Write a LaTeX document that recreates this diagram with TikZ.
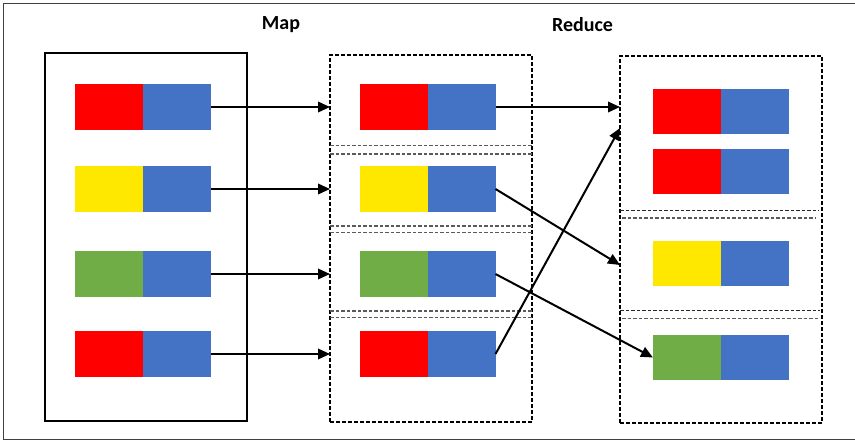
\documentclass[tikz,border=0pt]{standalone}
\usepackage{fontspec}
\setmainfont{Carlito}
\usetikzlibrary{arrows.meta}
\definecolor{kred}{HTML}{FF0000}
\definecolor{vblue}{HTML}{4472C4}
\definecolor{kyellow}{HTML}{FFE800}
\definecolor{kgreen}{HTML}{70AD47}
\definecolor{sepgray}{HTML}{5A5A5A}
\tikzset{
  cell/.style={minimum width=68pt, minimum height=45.5pt, inner sep=0pt, outer sep=0pt, fill=#1},
  solidbox/.style={draw=black, line width=1.8pt, minimum width=202pt, minimum height=368pt, inner sep=0pt, outer sep=0pt},
  dashbox/.style={draw=black, line width=1.8pt, dash pattern=on 4pt off 2pt, minimum width=202pt, minimum height=367pt, inner sep=0pt, outer sep=0pt},
  sepline/.style={draw=sepgray, line width=1.3pt, dash pattern=on 3.5pt off 2pt},
  sepdark/.style={draw=black!85, line width=1.3pt, dash pattern=on 3.5pt off 2pt},
  flow/.style={draw=black, line width=2pt, -{Triangle[length=12pt,width=10.5pt]}},
  title/.style={font=\bfseries\fontsize{20}{24}\selectfont, inner sep=0pt},
  frame/.style={draw=black!75, line width=1.3pt}
}
\begin{document}
\begin{tikzpicture}[x=1pt,y=-1pt]
  \useasboundingbox (0,0) rectangle (855,442);
  \fill[white] (0,0) rectangle (855,442);
  % surrounding frame
  \draw[frame] (860,3.5) -- (3.5,3.5) -- (3.5,439.5) -- (860,439.5);

  % titles
  \node[title] (maptitle) at (281,25) {Map};
  \node[title] (redtitle) at (582.5,25) {Reduce};

  % containers
  \node[solidbox] (left) at (146,237) {};
  \node[dashbox] (mid) at (431,238.5) {};
  \node[dashbox] (right) at (721,239.5) {};

  % partition separators in the map stage
  \foreach \ya/\yb in {145.5/154, 226/232.7, 311/317.7} {
    \draw[sepline] (330,\ya) -- (532,\ya);
    \draw[sepline] (330,\yb) -- (532,\yb);
  }
  % partition separators in the reduce stage
  \draw[sepdark] (620,210.7) -- (819,210.7);
  \draw[sepline] (622,218) -- (815,218);
  \draw[sepdark] (620,310.7) -- (820,310.7);
  \draw[sepline] (622,318.3) -- (820,318.3);

  % input records
  \node[cell=kred, anchor=east] (l1k) at (142.5,107) {};
  \node[cell=vblue, anchor=west] (l1v) at (142.5,107) {};
  \node[cell=kyellow, anchor=east] (l2k) at (142.5,189) {};
  \node[cell=vblue, anchor=west] (l2v) at (142.5,189) {};
  \node[cell=kgreen, anchor=east] (l3k) at (142.5,274) {};
  \node[cell=vblue, anchor=west] (l3v) at (142.5,274) {};
  \node[cell=kred, anchor=east] (l4k) at (142.5,354) {};
  \node[cell=vblue, anchor=west] (l4v) at (142.5,354) {};

  % mapped records
  \node[cell=kred, anchor=east] (m1k) at (427.5,107) {};
  \node[cell=vblue, anchor=west] (m1v) at (427.5,107) {};
  \node[cell=kyellow, anchor=east] (m2k) at (427.5,189) {};
  \node[cell=vblue, anchor=west] (m2v) at (427.5,189) {};
  \node[cell=kgreen, anchor=east] (m3k) at (427.5,274) {};
  \node[cell=vblue, anchor=west] (m3v) at (427.5,274) {};
  \node[cell=kred, anchor=east] (m4k) at (427.5,354) {};
  \node[cell=vblue, anchor=west] (m4v) at (427.5,354) {};

  % grouped records
  \node[cell=kred, anchor=east] (r1k) at (721,111.5) {};
  \node[cell=vblue, anchor=west] (r1v) at (721,111.5) {};
  \node[cell=kred, anchor=east] (r2k) at (721,171.5) {};
  \node[cell=vblue, anchor=west] (r2v) at (721,171.5) {};
  \node[cell=kyellow, anchor=east] (r3k) at (721,263.5) {};
  \node[cell=vblue, anchor=west] (r3v) at (721,263.5) {};
  \node[cell=kgreen, anchor=east] (r4k) at (721,357.5) {};
  \node[cell=vblue, anchor=west] (r4v) at (721,357.5) {};

  \coordinate (redin) at (620,128);
  \coordinate (yelin) at (620,265);

  % map arrows
  \draw[flow] (l1v.east) -- (l1v.east -| mid.west);
  \draw[flow] (l2v.east) -- (l2v.east -| mid.west);
  \draw[flow] (l3v.east) -- (l3v.east -| mid.west);
  \draw[flow] (l4v.east) -- (l4v.east -| mid.west);

  % shuffle arrows
  \draw[flow] (m1v.east) -- (m1v.east -| right.west);
  \draw[flow] (m2v.east) -- (yelin);
  \draw[flow] (m3v.east) -- (r4k.west);
  \draw[flow] (m4v.east) -- (redin);
\end{tikzpicture}
\end{document}
